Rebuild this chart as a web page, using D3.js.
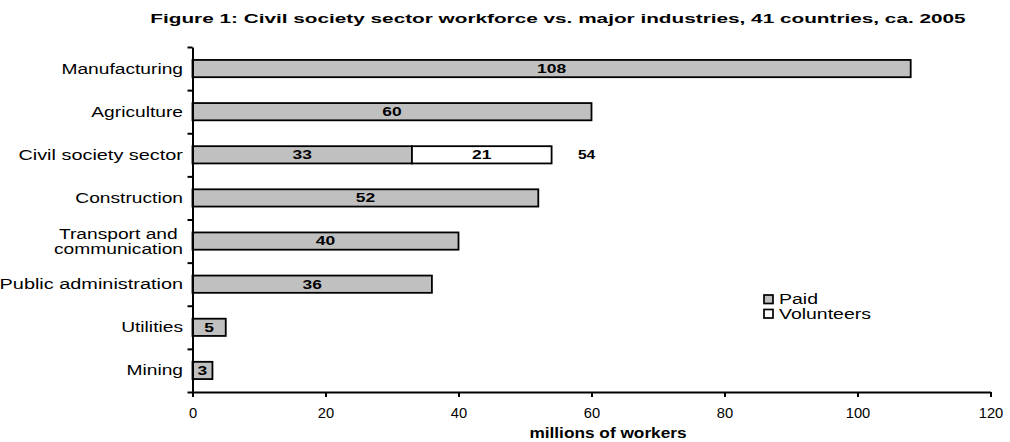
<!DOCTYPE html>
<html>
<head>
<meta charset="utf-8">
<script src="https://cdn.jsdelivr.net/npm/d3@7"></script>
<style>
  html, body { margin: 0; padding: 0; background: #fff; }
  svg { display: block; font-family: "Liberation Sans", Arial, sans-serif; }
</style>
</head>
<body>
<svg id="chart" width="1010" height="442"></svg>
<script>
// Workforce by industry, millions of workers
const categories = [
  "Manufacturing",
  "Agriculture",
  "Civil society sector",
  "Construction",
  "Transport and \ncommunication",
  "Public administration",
  "Utilities",
  "Mining"
];
const paid       = [108, 60, 33, 52, 40, 36, 5, 3];
const volunteers = [0, 0, 21, 0, 0, 0, 0, 0];
const xTicks     = [0, 20, 40, 60, 80, 100, 120];
const seriesNames = ["Paid", "Volunteers"];
const seriesFill  = ["#c0c0c0", "#ffffff"];

const titleText = "Figure 1: Civil society sector workforce vs. major industries, 41 countries, ca. 2005";
const xTitle = "millions of workers";

const svg = d3.select("#chart");

// Widen rendered text horizontally by factor k
function widen(sel, k) {
  sel.each(function () {
    const w = this.getComputedTextLength();
    this.setAttribute("textLength", w * k);
    this.setAttribute("lengthAdjust", "spacingAndGlyphs");
  });
}

const rows = categories.map((c, i) => ({ cat: c, Paid: paid[i], Volunteers: volunteers[i] }));

const x = d3.scaleLinear().domain([0, 120]).range([192.5, 990.5]);
const y = d3.scaleBand().domain(categories).range([47, 392])
  .paddingInner(0.6).paddingOuter(0.3);
const yEdge = d3.scaleLinear().domain([0, categories.length]).range([47, 392]);

// Title
svg.append("text")
  .attr("x", 558).attr("y", 23)
  .attr("text-anchor", "middle")
  .attr("font-size", 12.5).attr("font-weight", "bold")
  .text(titleText)
  .call(widen, 1.66);

// Stacked bars
const stack = d3.stack().keys(seriesNames)(rows);
const layers = svg.append("g").selectAll("g").data(stack).join("g")
  .attr("fill", (d, i) => seriesFill[i]);

layers.selectAll("rect")
  .data(d => d.filter(s => s[1] - s[0] > 0))
  .join("rect")
  .attr("x", d => x(d[0]))
  .attr("y", d => y(d.data.cat))
  .attr("width", d => x(d[1]) - x(d[0]))
  .attr("height", y.bandwidth())
  .attr("stroke", "#000")
  .attr("stroke-width", 1.8);

// Segment value labels
layers.selectAll("text.val")
  .data(d => d.filter(s => s[1] - s[0] > 0))
  .join("text")
  .attr("class", "val")
  .attr("x", d => (x(d[0]) + x(d[1])) / 2)
  .attr("y", d => y(d.data.cat) + y.bandwidth() / 2)
  .attr("dy", "0.36em")
  .attr("text-anchor", "middle")
  .attr("fill", "#000")
  .attr("font-size", 12).attr("font-weight", "bold")
  .text(d => d[1] - d[0])
  .call(widen, 1.45);

// Totals where a bar has volunteers
svg.append("g").selectAll("text")
  .data(rows.filter(r => r.Volunteers > 0))
  .join("text")
  .attr("x", d => x(d.Paid + d.Volunteers) + 35)
  .attr("y", d => y(d.cat) + y.bandwidth() / 2)
  .attr("dy", "0.36em")
  .attr("text-anchor", "middle")
  .attr("font-size", 12).attr("font-weight", "bold")
  .text(d => d.Paid + d.Volunteers)
  .call(widen, 1.3);

// Y axis: line and ticks between categories
const yAxisG = svg.append("g")
  .attr("transform", `translate(${x(0)},0)`)
  .call(d3.axisLeft(yEdge).tickValues(d3.range(categories.length + 1))
    .tickSize(5).tickSizeOuter(0).tickFormat(""));
yAxisG.selectAll("path, line").attr("stroke", "#000").attr("stroke-width", 2);

// Category labels
const catG = svg.append("g").attr("font-size", 14).attr("fill", "#000");
categories.forEach(c => {
  const lines = c.split("\n");
  const cy = y(c) + y.bandwidth() / 2;
  const lh = 15;
  lines.forEach((ln, j) => {
    catG.append("text")
      .attr("x", 183)
      .attr("y", cy + (j - (lines.length - 1) / 2) * lh)
      .attr("dy", "0.36em")
      .attr("text-anchor", "end")
      .style("white-space", "pre")
      .text(ln)
      .call(widen, ln.length > 18 ? 1.42 : 1.37);
  });
});

// X axis
const xAxisG = svg.append("g")
  .attr("transform", "translate(0,392)")
  .call(d3.axisBottom(x).tickValues(xTicks).tickSize(5).tickSizeOuter(0).tickPadding(11));
xAxisG.selectAll("path, line").attr("stroke", "#000").attr("stroke-width", 2);
xAxisG.selectAll("text")
  .attr("font-size", 14)
  .attr("font-family", "'Liberation Sans', Arial, sans-serif")
  .attr("fill", "#000")
  .call(widen, 1.05);

svg.append("text")
  .attr("x", 608).attr("y", 438)
  .attr("text-anchor", "middle")
  .attr("font-size", 15).attr("font-weight", "bold")
  .text(xTitle)
  .call(widen, 1.15);

// Legend
const legend = svg.append("g").attr("transform", "translate(764,295)");
seriesNames.forEach((name, i) => {
  const g = legend.append("g").attr("transform", `translate(0,${i * 14.5})`);
  g.append("rect")
    .attr("width", 9).attr("height", 8.5)
    .attr("fill", seriesFill[i])
    .attr("stroke", "#000").attr("stroke-width", 1.7);
  g.append("text")
    .attr("x", 15).attr("y", 4)
    .attr("dy", "0.36em")
    .attr("font-size", 14)
    .text(name)
    .call(widen, 1.39);
});
</script>
</body>
</html>
